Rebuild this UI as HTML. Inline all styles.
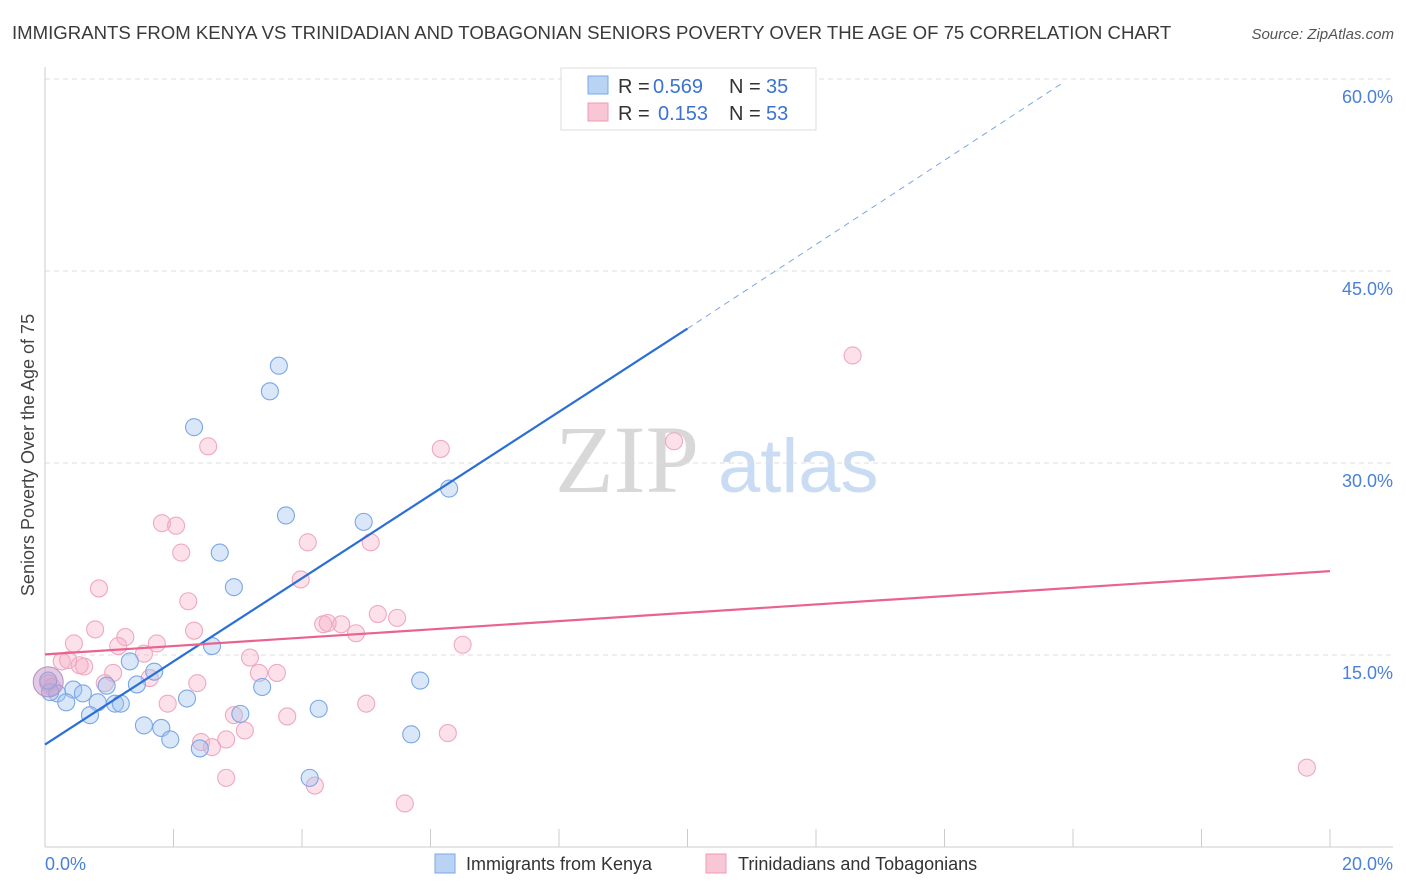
<!DOCTYPE html>
<html><head><meta charset="utf-8"><style>
body{margin:0;background:#fff;font-family:"Liberation Sans",sans-serif;}
svg{display:block}
</style></head><body>
<svg id="c" width="1406" height="892">
<text x="12" y="39" font-size="18.6" fill="#3a3a3a">IMMIGRANTS FROM KENYA VS TRINIDADIAN AND TOBAGONIAN SENIORS POVERTY OVER THE AGE OF 75 CORRELATION CHART</text>
<text x="1394" y="39" font-size="15" fill="#555" font-style="italic" text-anchor="end">Source: ZipAtlas.com</text>
<text x="555" y="492" font-size="96" font-family="Liberation Serif,serif" fill="#d8d8d8">ZIP</text>
<text x="718" y="492" font-size="76" fill="#c9dcf3">atlas</text>
<text transform="translate(34,455) rotate(-90)" font-size="18" fill="#444" text-anchor="middle">Seniors Poverty Over the Age of 75</text>
<g id="grid"></g><g id="pts"></g><g id="lines"></g>
<g>
<rect x="561" y="68" width="255" height="62" fill="#fff" stroke="#ddd"/>
<rect x="588" y="76" width="20" height="18" fill="#b9d3f5" stroke="#7aa7e6"/>
<rect x="588" y="103" width="20" height="18" fill="#f9c6d5" stroke="#ee9ab3"/>
<text x="618" y="93" font-size="20" fill="#333">R =</text>
<text x="653" y="93" font-size="20" fill="#3b73d1">0.569</text>
<text x="729" y="93" font-size="20" fill="#333">N =</text>
<text x="766" y="93" font-size="20" fill="#3b73d1">35</text>
<text x="618" y="120" font-size="20" fill="#333">R =</text>
<text x="658" y="120" font-size="20" fill="#3b73d1">0.153</text>
<text x="729" y="120" font-size="20" fill="#333">N =</text>
<text x="766" y="120" font-size="20" fill="#3b73d1">53</text>
</g>
<g>
<rect x="435" y="854" width="20" height="19" fill="#b9d3f5" stroke="#7aa7e6"/>
<text x="466" y="870" font-size="18" fill="#333">Immigrants from Kenya</text>
<rect x="706" y="854" width="20" height="19" fill="#f9c6d5" stroke="#ee9ab3"/>
<text x="738" y="870" font-size="18" fill="#333">Trinidadians and Tobagonians</text>
</g>
</svg>
<script>
const yTicks=[15,30,45,60];
const kenyaX=[9.0,3.64,3.5,2.32,6.29,3.75,4.96,2.72,2.94,2.6,1.32,1.7,1.43,3.38,0.96,0.44,0.59,0.19,0.08,0.33,0.82,1.09,1.18,2.21,5.84,4.26,3.04,0.7,1.54,1.81,1.95,5.7,2.41,4.12,0.05];
const kenyaY=[59.9,37.6,35.6,32.8,28.0,25.9,25.4,23.0,20.3,15.7,14.5,13.7,12.7,12.5,12.6,12.3,12.0,12.0,12.1,11.3,11.3,11.2,11.2,11.6,13.0,10.8,10.4,10.3,9.5,9.3,8.4,8.8,7.7,5.4,13.0];
const trinX=[12.57,9.79,6.16,2.54,1.82,2.04,2.12,4.09,5.07,0.84,3.98,2.23,5.18,5.48,4.33,4.4,4.61,4.84,0.78,2.32,1.25,0.45,1.74,1.14,6.5,1.54,0.36,0.26,3.19,0.61,0.54,1.06,3.33,3.61,1.63,0.93,2.37,0.11,0.05,1.91,5.0,2.94,3.77,3.11,6.27,2.43,2.6,2.82,2.82,4.2,5.6,19.64];
const trinY=[38.4,31.7,31.1,31.3,25.3,25.1,23.0,23.8,23.8,20.2,20.9,19.2,18.2,17.9,17.4,17.5,17.4,16.7,17.0,16.9,16.4,15.9,15.9,15.7,15.8,15.1,14.6,14.5,14.8,14.1,14.2,13.6,13.6,13.6,13.2,12.8,12.8,12.5,12.8,11.2,11.2,10.3,10.2,9.1,8.9,8.2,7.8,8.4,5.4,4.8,3.4,6.2];
const X0=45,X1=1330,Y0=847,Y60=79;
const sx=v=>X0+(v/20)*(X1-X0), sy=v=>Y0-(v/60)*(Y0-Y60);
const NS="http://www.w3.org/2000/svg";
function mk(t,a,p){const e=document.createElementNS(NS,t);for(const k in a)e.setAttribute(k,a[k]);p.appendChild(e);return e;}
const grid=document.getElementById('grid');
mk('line',{x1:45,y1:67,x2:45,y2:847,stroke:'#ccc'},grid);
mk('line',{x1:45,y1:847,x2:1393,y2:847,stroke:'#ccc'},grid);
yTicks.forEach(t=>{
const l=mk('line',{x1:45,x2:1393,y1:sy(t),y2:sy(t),stroke:'#ddd','stroke-dasharray':'5,4'},grid);


const tx=mk('text',{x:1393,y:sy(t)+24,'font-size':18,fill:'#4a80d8','text-anchor':'end'},grid);
tx.textContent=t.toFixed(1)+'%';


});
for(let i=0;i<=10;i++){mk('line',{x1:sx(i*2),x2:sx(i*2),y1:829,y2:847,stroke:'#ccc'},grid);}
let a=mk('text',{x:45,y:870,'font-size':18,fill:'#4a80d8'},grid);a.textContent='0.0%';


a=mk('text',{x:1393,y:870,'font-size':18,fill:'#4a80d8','text-anchor':'end'},grid);a.textContent='20.0%';


const pts=document.getElementById('pts');
trinX.forEach((x,i)=>{const c=mk('circle',{cx:sx(x),cy:sy(trinY[i]),r:8.5,fill:'rgba(246,170,195,0.35)',stroke:'#f0a8be','stroke-width':1.1},pts);

});
kenyaX.forEach((x,i)=>{const c=mk('circle',{cx:sx(x),cy:sy(kenyaY[i]),r:8.5,fill:'rgba(160,195,240,0.4)',stroke:'#7aa7e6','stroke-width':1.1},pts);

});
const big=mk('circle',{cx:sx(0.05),cy:sy(12.9),r:15,fill:'rgba(200,150,200,0.5)',stroke:'#b090c8'},pts);


const L=document.getElementById('lines');
let l=mk('line',{x1:sx(0),y1:sy(8.0),x2:sx(10),y2:sy(40.5),stroke:'#2a6fd6','stroke-width':2.2},L);


l=mk('line',{x1:sx(10),y1:sy(40.5),x2:sx(15.87),y2:sy(59.8),stroke:'#7aa7e6','stroke-width':1,'stroke-dasharray':'6,5'},L);


l=mk('line',{x1:sx(0),y1:sy(15.05),x2:sx(20),y2:sy(21.55),stroke:'#e8638f','stroke-width':2.2},L);


</script>
</body></html>
